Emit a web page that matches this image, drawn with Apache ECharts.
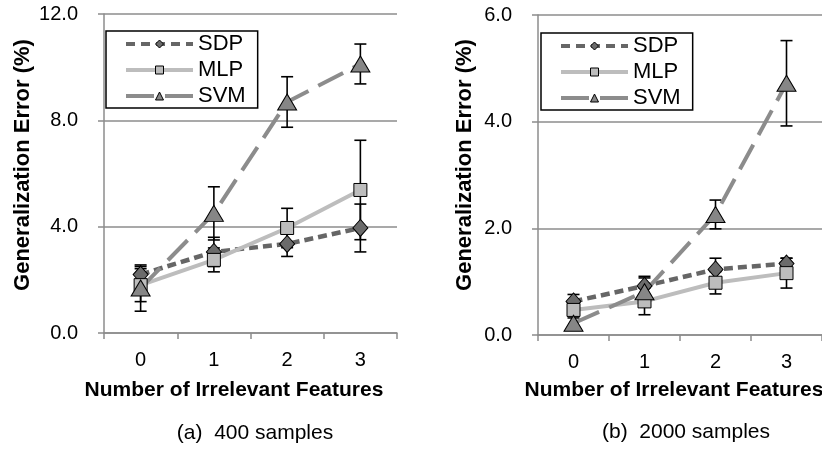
<!DOCTYPE html>
<html>
<head>
<meta charset="utf-8">
<script src="https://cdn.jsdelivr.net/npm/echarts@6/dist/echarts.min.js"></script>
<style>
html,body{margin:0;padding:0;background:#fff;}
#main{width:822px;height:452px;}
</style>
</head>
<body>
<div id="main"></div>
<script>
const categories = ['0', '1', '2', '3'];
const seriesNames = ['SDP', 'MLP', 'SVM'];

// (a) 400 samples
const sdp400 = [2.2, 3.05, 3.35, 3.95];
const sdp400Err = [0.3, 0.55, 0.47, 0.9];
const mlp400 = [1.8, 2.75, 3.95, 5.38];
const mlp400Err = [0.62, 0.45, 0.74, 1.87];
const svm400 = [1.69, 4.5, 8.69, 10.12];
const svm400Err = [0.87, 1.0, 0.95, 0.75];

// (b) 2000 samples
const sdp2000 = [0.63, 0.92, 1.23, 1.34];
const sdp2000Err = [0.13, 0.18, 0.21, 0.1];
const mlp2000 = [0.47, 0.63, 0.98, 1.16];
const mlp2000Err = [0.1, 0.25, 0.21, 0.28];
const svm2000 = [0.22, 0.81, 2.26, 4.72];
const svm2000Err = [0.1, 0.26, 0.27, 0.8];

const yTicks400 = [0, 4, 8, 12];
const yTicks2000 = [0, 2, 4, 6];

const FONT = '"Liberation Sans", Arial, Helvetica, sans-serif';
const AXIS_GRAY = '#8c8c8c';

const styles = {
  SDP: { color: '#666666', fill: '#6b6b6b', symbol: 'diamond', size: [15, 17], dash: [9, 5], legendDash: [9, 6], width: 4.5 },
  MLP: { color: '#bdbdbd', fill: '#bdbdbd', symbol: 'rect', size: [13, 13], dash: 'solid', legendDash: 'solid', width: 4 },
  SVM: { color: '#8c8c8c', fill: '#868686', symbol: 'triangle', size: [19, 16], dash: [28, 11], legendDash: [28, 11], width: 4 }
};

function lineSeries(name, values, idx) {
  const s = styles[name];
  return {
    name: name,
    type: 'line',
    xAxisIndex: idx, yAxisIndex: idx,
    data: values,
    symbol: s.symbol,
    symbolSize: s.size,
    showAllSymbol: true,
    z: 3,
    lineStyle: { color: s.color, width: s.width, type: s.dash },
    itemStyle: { color: s.fill, borderColor: '#000', borderWidth: 1 },
    emphasis: { disabled: true },
    animation: false
  };
}

function errSeries(name, values, errs, idx) {
  const data = values.map((v, i) => [i, v, errs[i]]);
  return {
    name: name + ' err',
    type: 'custom',
    xAxisIndex: idx, yAxisIndex: idx,
    data: data,
    encode: { x: 0, y: 1 },
    z: 2,
    silent: true,
    animation: false,
    renderItem: function (params, api) {
      const x = api.value(0), v = api.value(1), e = api.value(2);
      const top = api.coord([x, v + e]);
      const bot = api.coord([x, v - e]);
      const hw = 6;
      const st = { stroke: '#000', lineWidth: 1.6 };
      return {
        type: 'group',
        children: [
          { type: 'line', shape: { x1: top[0], y1: top[1], x2: bot[0], y2: bot[1] }, style: st },
          { type: 'line', shape: { x1: top[0] - hw, y1: top[1], x2: top[0] + hw, y2: top[1] }, style: st },
          { type: 'line', shape: { x1: bot[0] - hw, y1: bot[1], x2: bot[0] + hw, y2: bot[1] }, style: st }
        ]
      };
    }
  };
}

function xAxis(idx) {
  return {
    type: 'category', gridIndex: idx, data: categories, boundaryGap: true,
    axisLine: { show: true, lineStyle: { color: AXIS_GRAY, width: 1.5 } },
    axisTick: { show: true, interval: 0, length: 6, lineStyle: { color: AXIS_GRAY, width: 1.5 } },
    axisLabel: { color: '#000', fontSize: 20, fontFamily: FONT, margin: 17 },
    splitLine: { show: false }
  };
}

function yAxis(idx, ticks) {
  const interval = ticks[1] - ticks[0];
  return {
    type: 'value', gridIndex: idx, min: ticks[0], max: ticks[ticks.length - 1], interval: interval,
    axisLine: { show: true, lineStyle: { color: AXIS_GRAY, width: 1.5 } },
    axisTick: { show: true, length: 6, lineStyle: { color: AXIS_GRAY, width: 1.5 } },
    axisLabel: { color: '#000', fontSize: 20, fontFamily: FONT, margin: 26, formatter: v => v.toFixed(1) },
    splitLine: { show: true, lineStyle: { color: AXIS_GRAY, width: 1.5 } }
  };
}

function legend(left, top) {
  return {
    left: left, top: top, orient: 'vertical',
    data: seriesNames.map(n => ({
      name: n,
      itemStyle: { color: styles[n].fill, borderColor: '#000', borderWidth: 1 },
      lineStyle: { color: styles[n].color, width: 4, type: styles[n].legendDash }
    })),
    itemWidth: 67, itemHeight: 10, itemGap: 4,
    padding: [2, 12, 1, 18],
    borderColor: '#000', borderWidth: 1.5, backgroundColor: '#fff',
    textStyle: { color: '#000', fontSize: 22, fontFamily: FONT, lineHeight: 22 },
    selectedMode: false
  };
}

function text(x, y, str, opts) {
  return Object.assign({
    type: 'text', x: x, y: y, silent: true,
    style: Object.assign({ text: str, fill: '#000', font: (opts.bold ? 'bold ' : '') + opts.size + 'px ' + FONT, align: 'center', verticalAlign: 'middle' })
  }, opts.rotation ? { rotation: opts.rotation } : {});
}

const option = {
  animation: false,
  backgroundColor: '#fff',
  grid: [
    { left: 104, top: 14, width: 293, height: 319, containLabel: false },
    { left: 538, top: 15, width: 293, height: 320, containLabel: false }
  ],
  xAxis: [xAxis(0), xAxis(1)],
  yAxis: [yAxis(0, yTicks400), yAxis(1, yTicks2000)],
  legend: [legend(106, 31), legend(541, 33)],
  series: [
    errSeries('SDP', sdp400, sdp400Err, 0),
    errSeries('MLP', mlp400, mlp400Err, 0),
    errSeries('SVM', svm400, svm400Err, 0),
    lineSeries('SDP', sdp400, 0),
    lineSeries('MLP', mlp400, 0),
    lineSeries('SVM', svm400, 0),
    errSeries('SDP', sdp2000, sdp2000Err, 1),
    errSeries('MLP', mlp2000, mlp2000Err, 1),
    errSeries('SVM', svm2000, svm2000Err, 1),
    lineSeries('SDP', sdp2000, 1),
    lineSeries('MLP', mlp2000, 1),
    lineSeries('SVM', svm2000, 1)
  ],
  graphic: [
    text(23, 165, 'Generalization Error (%)', { bold: true, size: 22, rotation: Math.PI / 2 }),
    text(465, 165, 'Generalization Error (%)', { bold: true, size: 22, rotation: Math.PI / 2 }),
    text(234, 390, 'Number of Irrelevant Features', { bold: true, size: 21 }),
    text(674, 390, 'Number of Irrelevant Features', { bold: true, size: 21 }),
    text(255, 433, '(a)  400 samples', { size: 21 }),
    text(686, 432, '(b)  2000 samples', { size: 21 })
  ]
};

const chart = echarts.init(document.getElementById('main'), null, { renderer: 'canvas' });
chart.setOption(option);
</script>
</body>
</html>
